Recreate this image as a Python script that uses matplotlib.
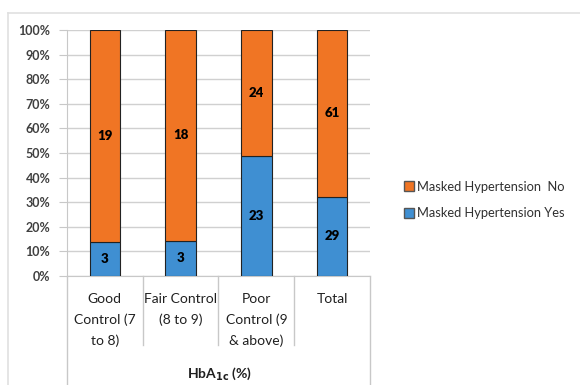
import matplotlib
matplotlib.use("Agg")
import matplotlib.pyplot as plt
from matplotlib.lines import Line2D

plt.rcParams['font.family'] = ['Lato', 'DejaVu Sans']

categories = ["Good\nControl (7\nto 8)", "Fair Control\n(8 to 9)",
              "Poor\nControl (9\n& above)", "Total"]
yes_counts = [3, 3, 23, 29]
no_counts = [19, 18, 24, 61]
yes_label = "Masked Hypertension Yes"
no_label = "Masked Hypertension  No"

c_no = "#F07524"
c_yes = "#3F8FD2"

totals = [y + n for y, n in zip(yes_counts, no_counts)]
yes_pct = [100 * y / t for y, t in zip(yes_counts, totals)]
no_pct = [100 * n / t for n, t in zip(no_counts, totals)]

fig = plt.figure(figsize=(5.8, 3.85), dpi=100)
ax = fig.add_axes([67 / 580, 109 / 385, 303 / 580, 246 / 385])

x = list(range(len(categories)))
ax.bar(x, yes_pct, width=0.4, color=c_yes, edgecolor="#222222", linewidth=0.8, zorder=3)
ax.bar(x, no_pct, width=0.4, bottom=yes_pct, color=c_no, edgecolor="#222222",
       linewidth=0.8, zorder=3)

for i in x:
    ax.text(i, yes_pct[i] / 2, str(yes_counts[i]), ha="center", va="center",
            fontsize=9.5, fontweight="heavy", color="black", zorder=4)
    ax.text(i, yes_pct[i] + no_pct[i] / 2, str(no_counts[i]), ha="center", va="center",
            fontsize=9.5, fontweight="heavy", color="black", zorder=4)

ax.set_xlim(-0.5, len(categories) - 0.5)
ax.set_ylim(0, 100)
ax.set_yticks(range(0, 101, 10))
ax.set_yticklabels([f"{v}%" for v in range(0, 101, 10)], fontsize=9,
                   fontweight="bold", color="#404040")
ax.yaxis.grid(True, color="#d0d0d0", linewidth=1, zorder=0)
ax.tick_params(axis="y", length=6, color="#c8c8c8", pad=6)

ax.set_xticks(x)
ax.set_xticklabels(categories, fontsize=10, color="#202020", linespacing=1.8)
ax.tick_params(axis="x", length=0, pad=12)

for s in ["top", "right"]:
    ax.spines[s].set_visible(False)
for s in ["left", "bottom"]:
    ax.spines[s].set_color("#c8c8c8")

# category separators below the axis
tr = ax.get_xaxis_transform()
for i, xv in enumerate([-0.5, 0.5, 1.5, 2.5, 3.5]):
    low = -0.45 if i in (0, 4) else -0.28
    ax.plot([xv, xv], [0, low], transform=tr, color="#c8c8c8", linewidth=1,
            clip_on=False)

fig.text(220 / 580, 1 - 374 / 385, r"HbA$_{\mathbf{1c}}$ (%)", ha="center", va="center",
         fontsize=10, fontweight="bold", color="#202020")

# outer chart frame
fig.add_artist(Line2D([8 / 580, 1], [1 - 13 / 385, 1 - 13 / 385], color="#e0e0e0",
                      linewidth=1.2, transform=fig.transFigure))
fig.add_artist(Line2D([8 / 580, 8 / 580], [0, 1 - 13 / 385], color="#e0e0e0",
                      linewidth=1.2, transform=fig.transFigure))

handles = [Line2D([], [], marker="s", linestyle="none", markersize=7,
                  markerfacecolor=c_no, markeredgecolor="#555555"),
           Line2D([], [], marker="s", linestyle="none", markersize=7,
                  markerfacecolor=c_yes, markeredgecolor="#555555")]
fig.legend(handles, [no_label, yes_label], loc="center left",
           bbox_to_anchor=(391 / 580, 1 - 200 / 385), frameon=False,
           fontsize=9.3, handletextpad=0.1, labelspacing=1.1, handlelength=1.0,
           labelcolor="#303030")

fig.savefig("out.png", dpi=100)
